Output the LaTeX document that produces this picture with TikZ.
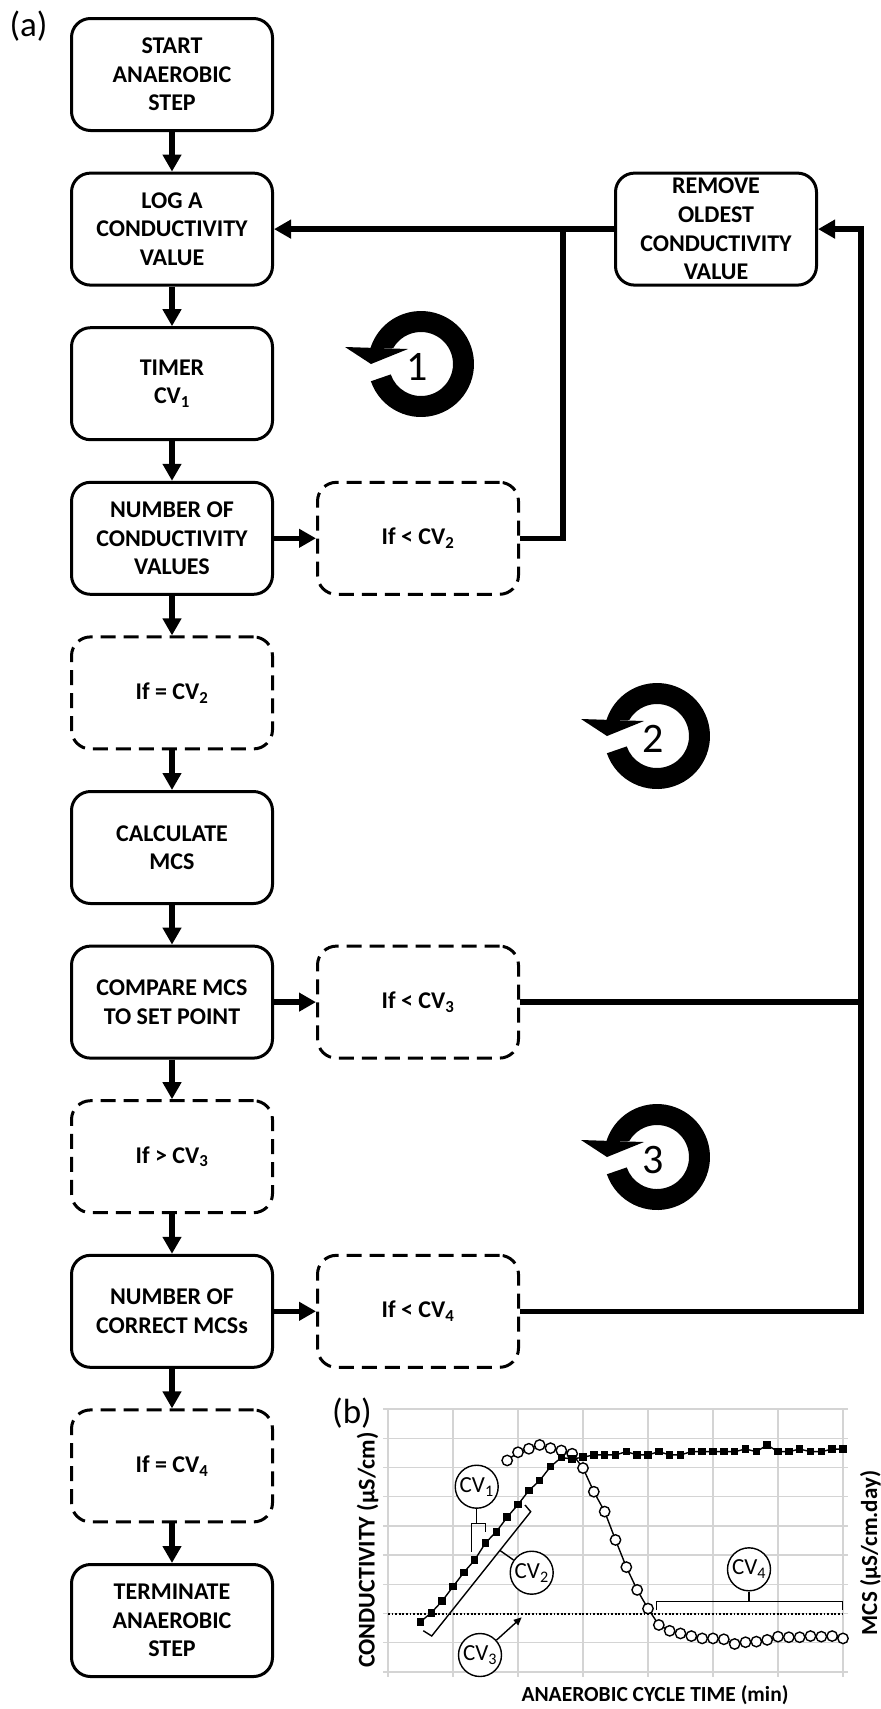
\documentclass[tikz,border=0pt]{standalone}
\usepackage{fontspec}
\setmainfont{Carlito}
\usetikzlibrary{arrows.meta}
\definecolor{gridgray}{RGB}{212,212,212}
\tikzset{
  loopsym/.pic={
    \fill (161:53) arc[start angle=161, end angle=-162.5, radius=53] -- (-150:32) arc[start angle=-150, end angle=161, radius=32] -- cycle;
    \fill (-76,-17) -- (-13,-15) -- (-50,0) -- cycle;
  }
}
\begin{document}
\begin{tikzpicture}[x=1pt,y=-1pt,
  proc/.style={draw, line width=3pt, rounded corners=19pt, minimum width=201pt, minimum height=112pt, align=center, inner sep=0pt, font=\fontsize{24}{28.6}\selectfont\bfseries},
  cond/.style={proc, dash pattern=on 15pt off 8pt},
  conn/.style={line width=5.5pt, line join=miter},
  arr/.style={conn, -{Triangle[length=17pt,width=18pt]}},
  gridln/.style={line width=1.3pt, draw=gridgray},
  thinln/.style={line width=1.4pt},
  cvc/.style={draw, thinln, fill=white, circle, minimum size=43pt, inner sep=0pt, font=\fontsize{23}{26}\selectfont},
  lbl/.style={font=\fontsize{35}{38}\selectfont},
  loopnum/.style={font=\fontsize{42}{44}\selectfont},
  axl/.style={font=\fontsize{21.5}{24}\selectfont\bfseries},
]
\fill[white] (0,0) rectangle (881,1709);
\useasboundingbox (0,0) rectangle (881,1709);

% ---------- flowchart (a) ----------
\node[lbl, anchor=west] (la) at (6,26) {(a)};
\node[proc] (start) at (172,74.5) {START\\ANAEROBIC\\STEP};
\node[proc] (log) at (172,229.1) {LOG A\\CONDUCTIVITY\\VALUE};
\node[proc] (timer) at (172,383.7) {TIMER\\CV\textsubscript{1}};
\node[proc] (ncv) at (172,538.3) {NUMBER OF\\CONDUCTIVITY\\VALUES};
\node[cond] (eq2) at (172,692.9) {If = CV\textsubscript{2}};
\node[proc] (calc) at (172,847.5) {CALCULATE\\MCS};
\node[proc] (cmp) at (172,1002.1) {COMPARE MCS\\TO SET POINT};
\node[cond] (gt3) at (172,1156.7) {If > CV\textsubscript{3}};
\node[proc] (ncorr) at (172,1311.3) {NUMBER OF\\CORRECT MCSs};
\node[cond] (eq4) at (172,1465.9) {If = CV\textsubscript{4}};
\node[proc] (term) at (172,1620.5) {TERMINATE\\ANAEROBIC\\STEP};
\node[cond] (lt2) at (418,538.3) {If < CV\textsubscript{2}};
\node[cond] (lt3) at (418,1002.1) {If < CV\textsubscript{3}};
\node[cond] (lt4) at (418,1311.3) {If < CV\textsubscript{4}};
\node[proc] (rem) at (716,229.1) {REMOVE\\OLDEST\\CONDUCTIVITY\\VALUE};

\foreach \a/\b in {start/log, log/timer, timer/ncv, ncv/eq2, eq2/calc, calc/cmp, cmp/gt3, gt3/ncorr, ncorr/eq4, eq4/term}
  \draw[arr] (\a) -- (\b);
\draw[arr] (ncv) -- (lt2);
\draw[arr] (cmp) -- (lt3);
\draw[arr] (ncorr) -- (lt4);

\coordinate (j1) at (563,229.1);
\coordinate (j2) at (563,538.3);
\coordinate (r1) at (861,1002.1);
\coordinate (r2) at (861,1311.3);
\coordinate (r3) at (861,229.1);
\draw[arr] (rem.west) -- (log.east);
\draw[conn] (lt2.east) -- (j2) -- (j1);
\draw[conn] (lt3.east) -- (r1);
\draw[arr] (lt4.east) -- (r2) -- (r3) -- (rem.east);

% loop symbols
\pic at (421,364) {loopsym};
\node[loopnum] (n1) at (417,367) {1};
\pic at (657,736) {loopsym};
\node[loopnum] (n2) at (653,739) {2};
\pic at (657,1157) {loopsym};
\node[loopnum] (n3) at (653,1160) {3};

% ---------- chart (b) ----------
\node[lbl] (lb) at (352,1413) {(b)};
\foreach \k in {0,...,7}
  \draw[gridln] (388+65*\k,1409) -- (388+65*\k,1677);
\foreach \k in {0,...,9}
  \draw[gridln] (383,1672-29.222*\k) -- (848,1672-29.222*\k);
\draw[line width=1.8pt, dash pattern=on 1.8pt off 1.8pt] (388,1613.6) -- (843,1613.6);

\begin{scope}[shift={(388pt,-1672pt)}, x=10.8333pt, y=29.222pt]
  \draw[thinln] plot coordinates {(11,7.24) (12,7.52) (13,7.64) (14,7.77) (15,7.66) (16,7.58) (17,7.47) (18,6.98) (19,6.17) (20,5.49) (21,4.52) (22,3.59) (23,2.81) (24,2.17) (25,1.61) (26,1.41) (27,1.32) (28,1.23) (29,1.15) (30,1.15) (31,1.12) (32,0.96) (33,1.02) (34,1.04) (35,1.10) (36,1.21) (37,1.19) (38,1.19) (39,1.23) (40,1.21) (41,1.23) (42,1.15)};
  \foreach \i/\u in {11/7.24, 12/7.52, 13/7.64, 14/7.77, 15/7.66, 16/7.58, 17/7.47, 18/6.98, 19/6.17, 20/5.49, 21/4.52, 22/3.59, 23/2.81, 24/2.17, 25/1.61, 26/1.41, 27/1.32, 28/1.23, 29/1.15, 30/1.15, 31/1.12, 32/0.96, 33/1.02, 34/1.04, 35/1.10, 36/1.21, 37/1.19, 38/1.19, 39/1.23, 40/1.21, 41/1.23, 42/1.15}
    \draw[thinln, fill=white] (\i,\u) circle[radius=5.2pt];
  \draw[thinln] plot coordinates {(3,1.72) (4,2.03) (5,2.43) (6,2.92) (7,3.41) (8,3.83) (9,4.42) (10,4.80) (11,5.30) (12,5.73) (13,6.21) (14,6.55) (15,7.03) (16,7.34) (17,7.29) (18,7.35) (19,7.43) (20,7.43) (21,7.43) (22,7.54) (23,7.43) (24,7.43) (25,7.54) (26,7.43) (27,7.43) (28,7.54) (29,7.54) (30,7.54) (31,7.54) (32,7.54) (33,7.63) (34,7.54) (35,7.77) (36,7.54) (37,7.54) (38,7.63) (39,7.54) (40,7.54) (41,7.63) (42,7.63)};
  \foreach \i/\u in {3/1.72, 4/2.03, 5/2.43, 6/2.92, 7/3.41, 8/3.83, 9/4.42, 10/4.80, 11/5.30, 12/5.73, 13/6.21, 14/6.55, 15/7.03, 16/7.34, 17/7.29, 18/7.35, 19/7.43, 20/7.43, 21/7.43, 22/7.54, 23/7.43, 24/7.43, 25/7.54, 26/7.43, 27/7.43, 28/7.54, 29/7.54, 30/7.54, 31/7.54, 32/7.54, 33/7.63, 34/7.54, 35/7.77, 36/7.54, 37/7.54, 38/7.63, 39/7.54, 40/7.54, 41/7.63, 42/7.63}
    \fill (\i,\u) ++(-3.8pt,-3.8pt) rectangle ++(7.6pt,7.6pt);
\end{scope}

% annotations
\node[cvc] (cv1) at (476.7,1486.7) {CV\textsubscript{1}};
\coordinate (b1) at (476.7,1523.3);
\draw[thinln] (cv1) -- (b1);
\draw[thinln] (471.7,1551.7) -- (471.7,1523.3) -- (485.7,1523.3) -- (485.7,1531.7);

\node[cvc] (cv2) at (531.7,1572.7) {CV\textsubscript{2}};
\coordinate (b2) at (500,1550.5);
\draw[thinln] (423.3,1630.7) -- (431.7,1636) -- (530.7,1511.7) -- (525,1505);
\draw[thinln] (b2) -- (cv2);

\node[cvc] (cv3) at (480,1655) {CV\textsubscript{3}};
\coordinate (b3) at (521.7,1617.3);
\draw[thinln, -{Triangle[length=8pt,width=7pt]}] (cv3) -- (b3);

\node[cvc] (cv4) at (749,1569.3) {CV\textsubscript{4}};
\coordinate (b4) at (749,1601.7);
\draw[thinln] (cv4) -- (b4);
\draw[thinln] (656.7,1610) -- (656.7,1601.7) -- (842.7,1601.7) -- (842.7,1610);

% axis labels
\node[axl] (xl) at (655,1695) {ANAEROBIC CYCLE TIME (min)};
\node[axl, font=\fontsize{24}{26}\selectfont\bfseries, rotate=90] (yl) at (367.5,1550) {CONDUCTIVITY (µS/cm)};
\node[axl, font=\fontsize{23}{26}\selectfont\bfseries, rotate=90] (yr) at (870.5,1553) {MCS (µS/cm.day)};
\end{tikzpicture}
\end{document}
